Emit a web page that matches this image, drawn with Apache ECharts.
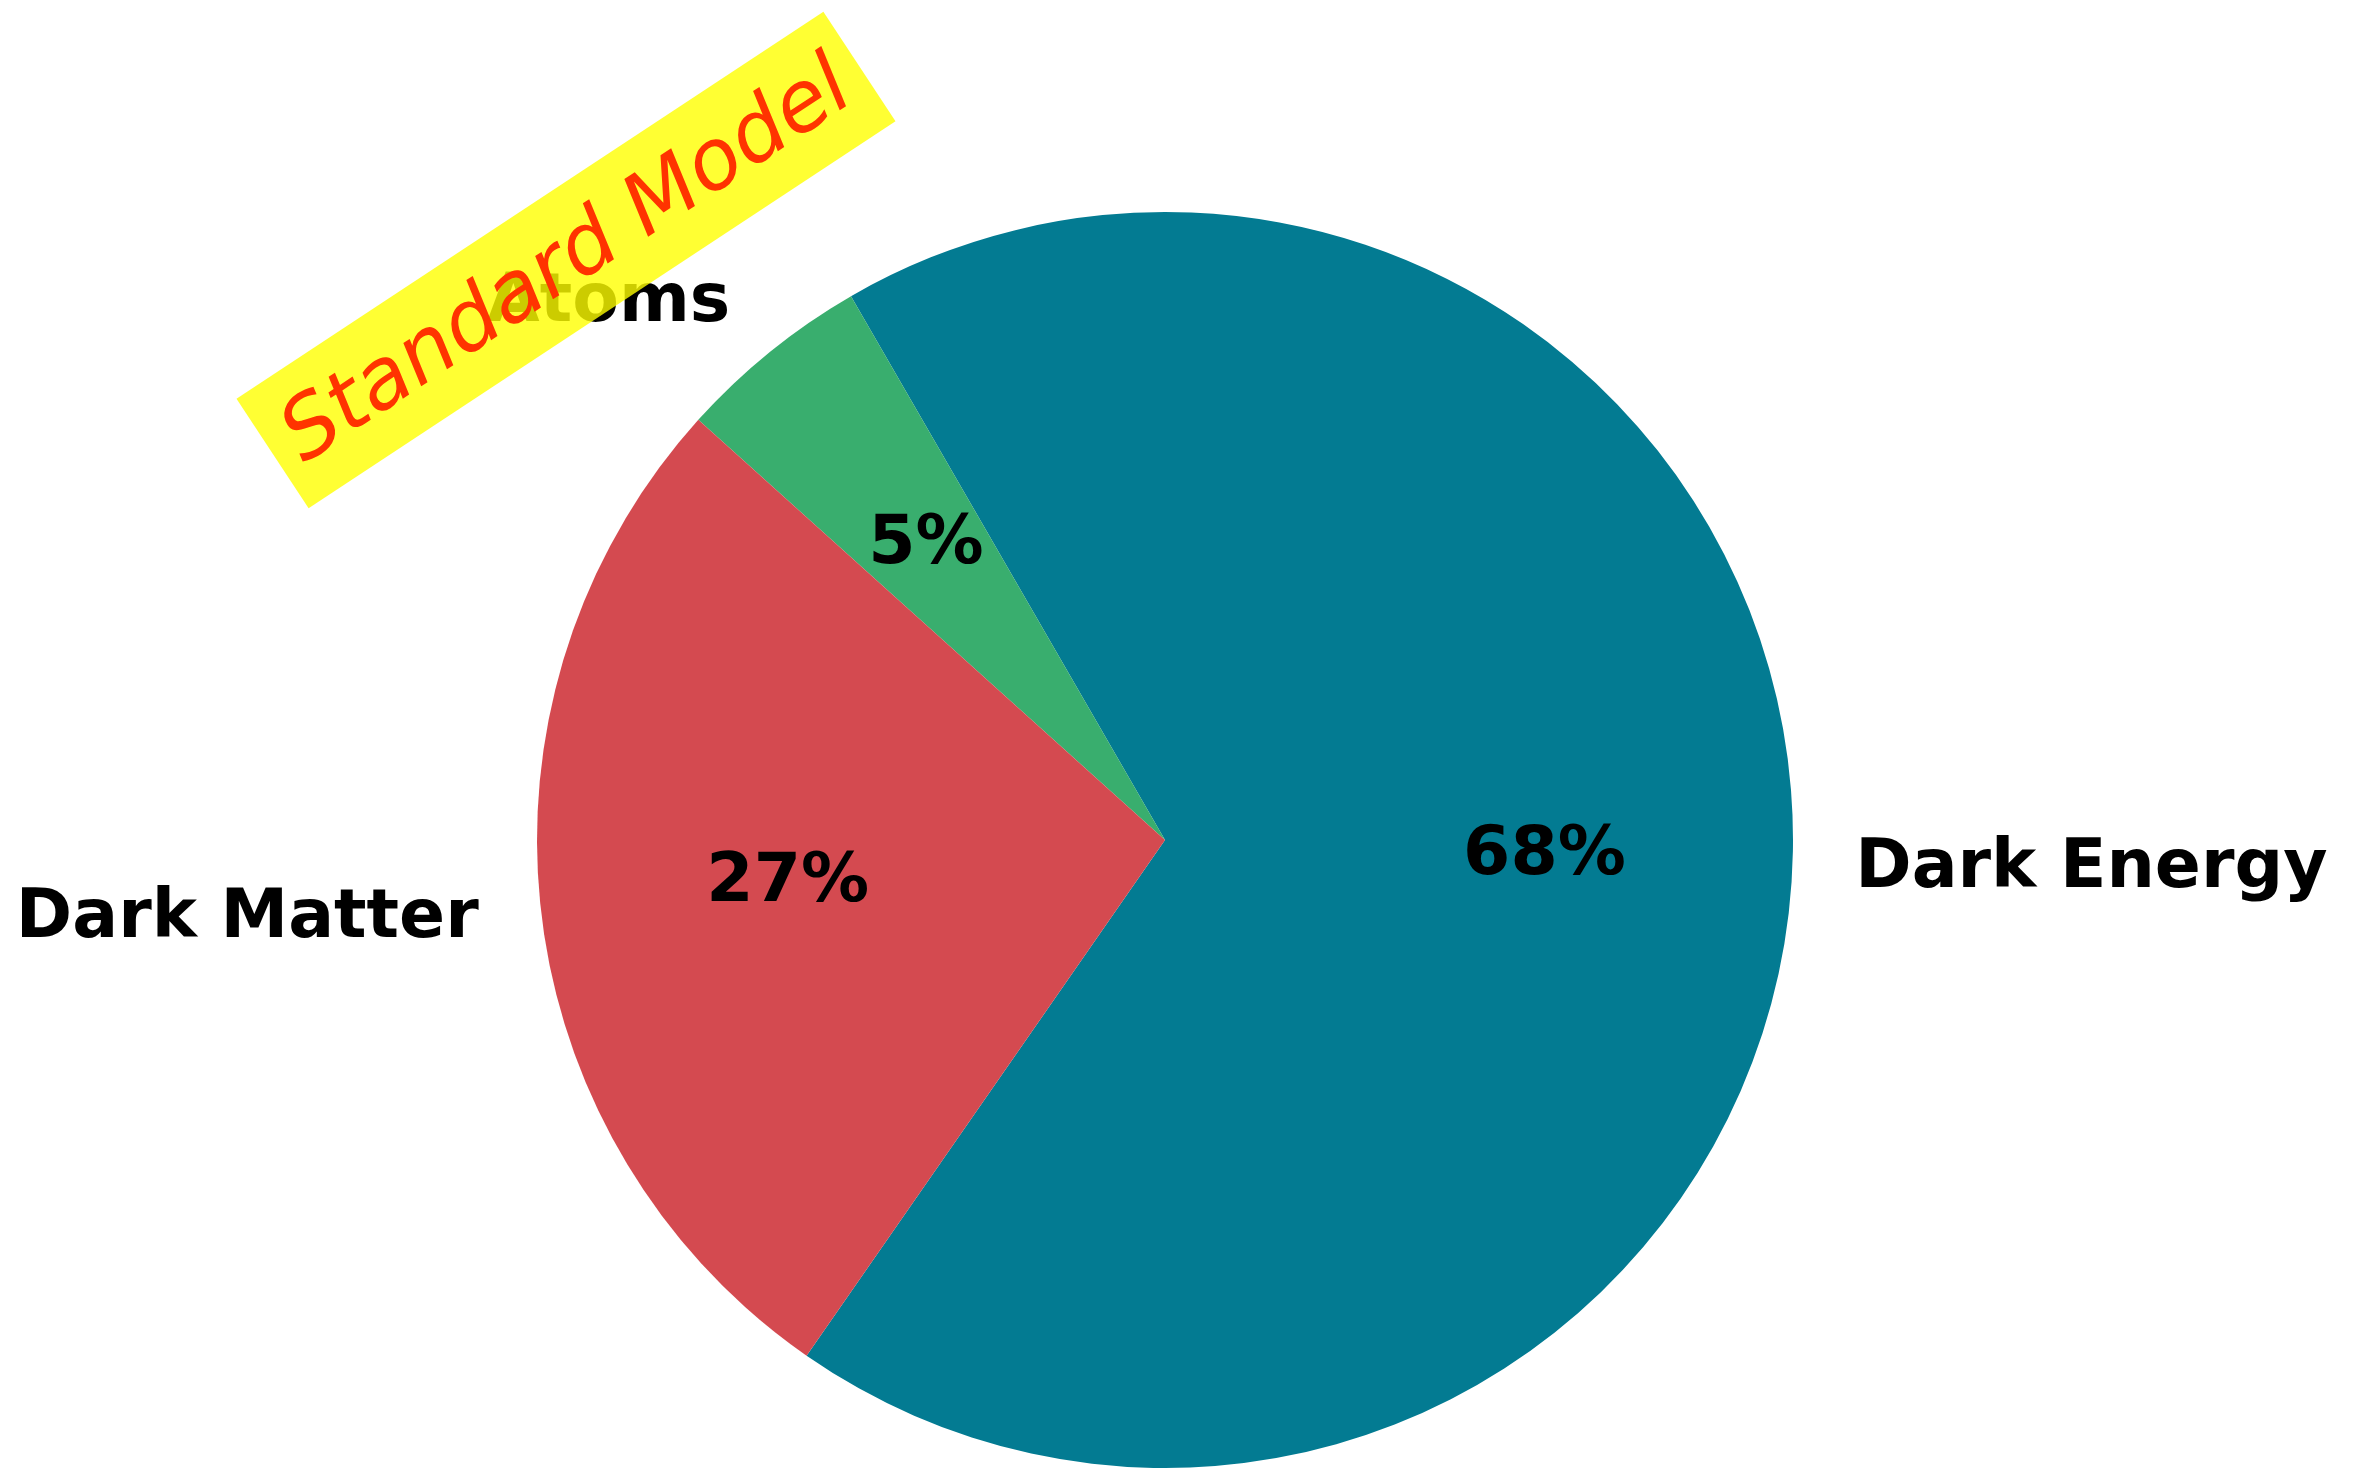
<!DOCTYPE html>
<html>
<head>
<meta charset="utf-8">
<title>Composition of the Universe</title>
<script src="https://cdn.jsdelivr.net/npm/echarts@6/dist/echarts.min.js"></script>
<style>
  html, body { margin: 0; padding: 0; background: #ffffff; }
  #chart { width: 2359px; height: 1469px; }
</style>
</head>
<body>
<div id="chart"></div>
<script>
// Slices, drawn counterclockwise starting from START_ANGLE
const categories = ['Dark Energy', 'Atoms', 'Dark Matter'];
const shares = [68, 5, 27];
const sliceColors = ['#037b92', '#39ae6e', '#d44a50'];
const noteText = 'Standard Model';

const START_ANGLE = -124.8;
const CX = 1165, CY = 840, R = 628;
const LABEL_FONT = 'DejaVu Sans';
const LABEL_SIZE = 68;

const pieData = categories.map((name, i) => ({
  name: name,
  value: shares[i],
  itemStyle: { color: sliceColors[i] }
}));

const chart = echarts.init(document.getElementById('chart'), null, { renderer: 'canvas' });

chart.setOption({
  backgroundColor: '#ffffff',
  animation: false,
  series: [
    {
      // filled wedges with category names just outside the rim
      type: 'pie',
      center: [CX, CY],
      radius: R,
      startAngle: START_ANGLE,
      clockwise: false,
      avoidLabelOverlap: false,
      silent: true,
      data: pieData,
      itemStyle: { borderWidth: 0 },
      label: {
        show: true,
        position: 'outside',
        formatter: '{b}',
        color: '#000000',
        fontFamily: LABEL_FONT,
        fontWeight: 'bold',
        fontSize: LABEL_SIZE,
        distanceToLabelLine: 0
      },
      labelLine: { show: false, length: R * 0.1, length2: 0 },
      emphasis: { disabled: true }
    },
    {
      // invisible ring used only to place the percentages at 0.6 R
      type: 'pie',
      center: [CX, CY],
      radius: R * 1.2,
      startAngle: START_ANGLE,
      clockwise: false,
      silent: true,
      z: 3,
      data: pieData.map(d => ({ name: d.name, value: d.value })),
      itemStyle: { color: 'rgba(0,0,0,0)', borderWidth: 0 },
      label: {
        show: true,
        position: 'inside',
        formatter: p => Math.round(p.percent) + '%',
        color: '#000000',
        fontFamily: LABEL_FONT,
        fontWeight: 'bold',
        fontSize: LABEL_SIZE
      },
      labelLine: { show: false },
      emphasis: { disabled: true }
    }
  ],
  graphic: [
    {
      // translucent note laid over the upper-left corner
      type: 'group',
      x: 566,
      y: 260,
      rotation: 33.4 * Math.PI / 180,
      z: 100,
      zlevel: 1,
      children: [
        {
          type: 'rect',
          z: 100,
          zlevel: 1,
          shape: { x: -351.5, y: -65.5, width: 703, height: 131 },
          style: { fill: 'rgba(255,255,0,0.8)' }
        },
        {
          type: 'text',
          z: 101,
          zlevel: 1,
          x: 0,
          y: 4,
          style: {
            text: noteText,
            fill: '#ff3300',
            font: 'italic 84px "DejaVu Sans"',
            align: 'center',
            verticalAlign: 'middle'
          }
        }
      ]
    }
  ]
});
</script>
</body>
</html>
